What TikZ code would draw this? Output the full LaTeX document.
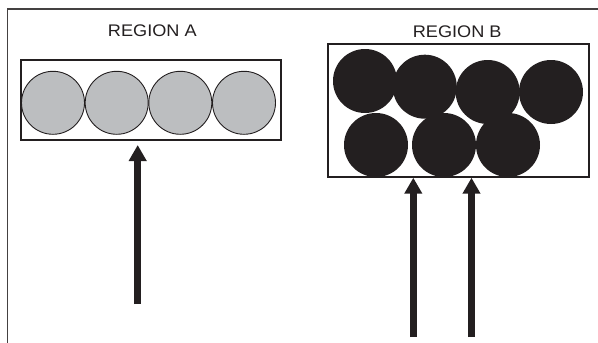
\documentclass[tikz,border=0pt]{standalone}
\usepackage{fontspec}
\newfontfamily\lblfont[FakeStretch=1.08]{Liberation Sans}
\usetikzlibrary{arrows.meta}
\definecolor{ink}{HTML}{231F20}
\definecolor{ballgray}{HTML}{BCBEC0}
\tikzset{
  regionbox/.style={draw=ink, line width=1.4pt, rectangle, inner sep=0pt},
  grayball/.style={circle, draw=ink, line width=0.9pt, fill=ballgray, minimum size=63pt, inner sep=0pt},
  blackball/.style={circle, fill=ink, minimum size=64pt, inner sep=0pt},
  lbl/.style={font=\lblfont\fontsize{16.8}{20}\selectfont, text=ink, inner sep=0pt},
  bigarrow/.style={draw=ink, line width=6.5pt, -{Triangle[width=17pt,length=16pt]}},
  frameline/.style={draw=ink!85, line width=1.2pt}
}
\begin{document}
\begin{tikzpicture}[x=1pt,y=-1pt]
\useasboundingbox (0,0) rectangle (598,343);
% outer frame (top and left)
\coordinate (fbl) at (7.3,343);
\coordinate (ftl) at (7.3,9);
\coordinate (ftr) at (598,9);
\draw[frameline] (fbl) -- (ftl) -- (ftr);
% labels
\node[lbl] (la) at (152.3,31) {REGION A};
\node[lbl] (lb) at (457.2,31.3) {REGION B};
% region boxes
\node[regionbox, minimum width=260pt, minimum height=80pt] (boxA) at (151,100) {};
\node[regionbox, minimum width=261pt, minimum height=133pt] (boxB) at (458.5,110.5) {};
% gray balls
\node[grayball] (g1) at (53,102.8) {};
\node[grayball] (g2) at (116.7,102.8) {};
\node[grayball] (g3) at (180.3,102.8) {};
\node[grayball] (g4) at (244,102.8) {};
% black balls
\node[blackball] (b1) at (365,81) {};
\node[blackball] (b2) at (424.8,86.7) {};
\node[blackball] (b3) at (487.7,92) {};
\node[blackball] (b4) at (551,92) {};
\node[blackball] (b5) at (376,145) {};
\node[blackball] (b6) at (444,145) {};
\node[blackball] (b7) at (508,145) {};
% arrows
\coordinate (aAs) at (137.7,304);
\coordinate (aAt) at (137.7,145);
\coordinate (aB1s) at (413.3,337);
\coordinate (aB2s) at (471.5,337);
\draw[bigarrow] (aAs) -- (aAt);
\draw[bigarrow] (aB1s) -- (aB1s |- boxB.south);
\draw[bigarrow] (aB2s) -- (aB2s |- boxB.south);
\end{tikzpicture}
\end{document}
